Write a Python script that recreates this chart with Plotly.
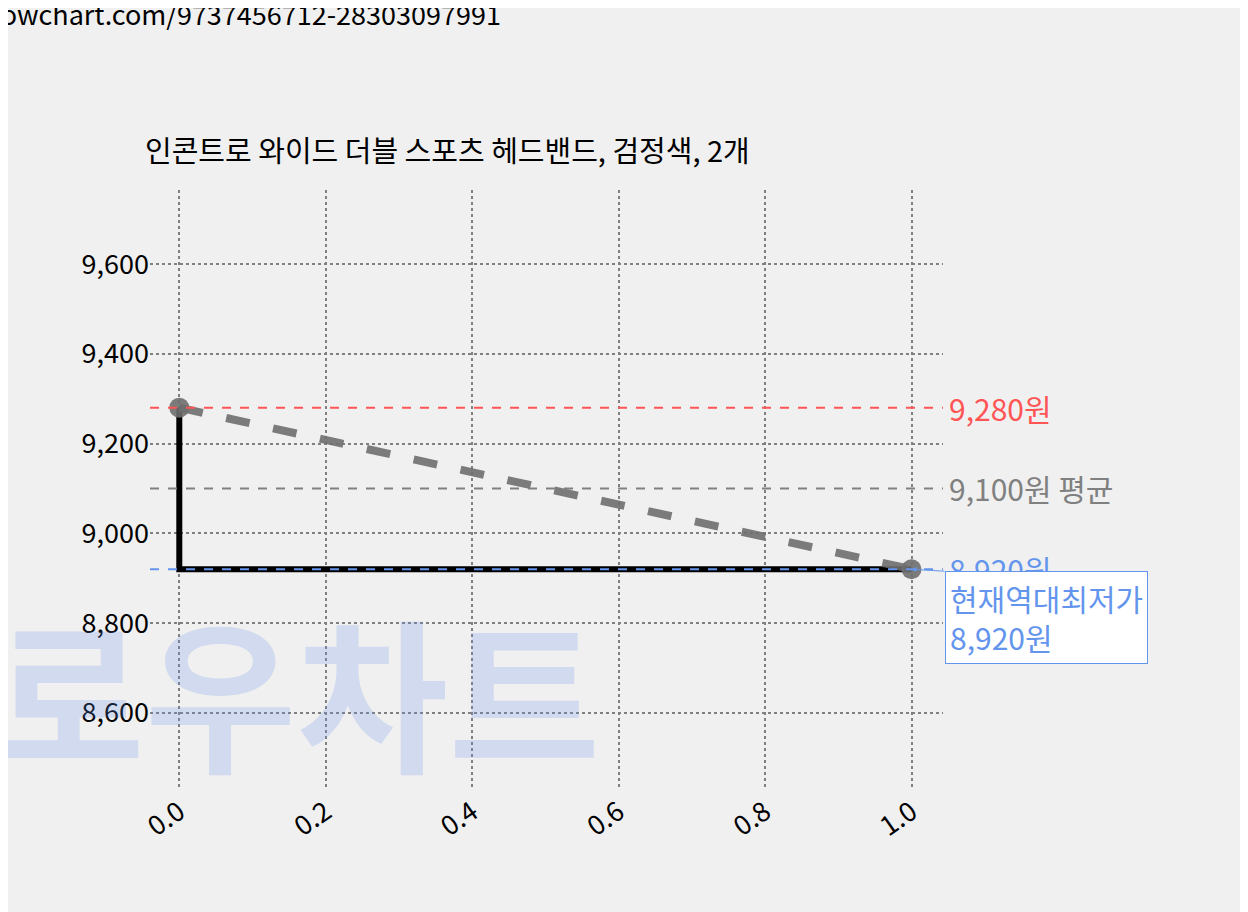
import plotly.graph_objects as go

x_vals = [0.0, 1.0]
prices = [9280, 8920]
max_price = 9280
avg_price = 9100
min_price = 8920
title = "인콘트로 와이드 더블 스포츠 헤드밴드, 검정색, 2개"
url = "lowchart.com/9737456712-28303097991"
y_ticks = [8600, 8800, 9000, 9200, 9400, 9600]
x_ticks = [0.0, 0.2, 0.4, 0.6, 0.8, 1.0]

F = "Noto Sans CJK KR"
fig = go.Figure()
fig.add_annotation(xref="paper", yref="paper", x=-0.2, y=0.17, text="<b>로우차트</b>", showarrow=False,
                   xanchor="left", yanchor="middle", font=dict(size=165, color="rgba(100,140,230,0.22)", family=F))
fig.add_trace(go.Scatter(x=[x_vals[0], x_vals[0], x_vals[1]], y=[prices[0], prices[1], prices[1]],
                         mode="lines", line=dict(color="black", width=6), hoverinfo="skip"))
fig.add_trace(go.Scatter(x=x_vals, y=prices, mode="lines+markers",
                         line=dict(color="rgba(110,110,110,0.9)", width=8, dash="dash"),
                         marker=dict(size=20, color="rgba(110,110,110,0.9)")))
for v, c in [(max_price, "#ff5555"), (avg_price, "#808080"), (min_price, "#6495ed")]:
    fig.add_shape(type="line", xref="paper", x0=0, x1=1, y0=v, y1=v,
                  line=dict(color=c, width=2, dash="dash"))
fig.add_annotation(xref="paper", x=1.005, y=max_price, text="9,280원", showarrow=False,
                   xanchor="left", font=dict(size=30, color="#ff5555", family=F))
fig.add_annotation(xref="paper", x=1.005, y=avg_price, text="9,100원 평균", showarrow=False,
                   xanchor="left", font=dict(size=30, color="#808080", family=F))
fig.add_annotation(xref="paper", x=1.005, y=min_price, text="8,920원", showarrow=False,
                   xanchor="left", font=dict(size=30, color="#6495ed", family=F))
fig.add_annotation(x=1.0, y=min_price, text="현재역대최저가<br>8,920원", showarrow=True,
                   arrowcolor="#6495ed", arrowhead=2, ax=33, ay=2, xanchor="left", yanchor="top",
                   align="left", bgcolor="white", bordercolor="#6495ed", borderwidth=1, borderpad=4,
                   font=dict(size=30, color="#6495ed", family=F))
fig.add_annotation(xref="paper", yref="paper", x=-0.2, y=1.33, text=url, showarrow=False,
                   xanchor="left", font=dict(size=27, color="black", family=F))
fig.update_layout(
    width=1248, height=912, paper_bgcolor="#f0f0f0", plot_bgcolor="#f0f0f0",
    showlegend=False, margin=dict(l=142, r=313, t=182, b=130),
    title=dict(text=title, x=137/1248, xanchor="left", y=1-144/912, yanchor="middle",
               font=dict(size=29, color="black", family=F)),
    xaxis=dict(range=[-0.04, 1.043], tickvals=x_ticks, ticktext=[f"{t:.1f}" for t in x_ticks],
               tickangle=-35, showgrid=True, griddash="dot", gridcolor="#808080", gridwidth=2,
               zeroline=False, showline=False, tickfont=dict(size=27, family=F, color="black")),
    yaxis=dict(range=[8428, 9765], tickvals=y_ticks, ticktext=[f"{t:,}" for t in y_ticks],
               showgrid=True, griddash="dot", gridcolor="#808080", gridwidth=2,
               zeroline=False, showline=False, tickfont=dict(size=27, family=F, color="black")),
)
fig.write_html("out.html")
